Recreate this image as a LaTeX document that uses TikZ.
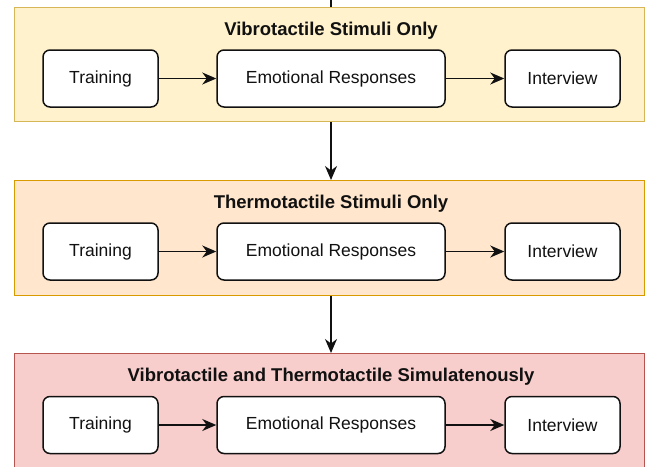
\documentclass[tikz,border=0pt]{standalone}
\usepackage{fontspec}
\setmainfont{Liberation Sans}
\usetikzlibrary{arrows.meta}
\definecolor{yfill}{HTML}{FFF2CC}
\definecolor{ydraw}{HTML}{D6B656}
\definecolor{ofill}{HTML}{FFE6CC}
\definecolor{odraw}{HTML}{D79B00}
\definecolor{rfill}{HTML}{F8CECC}
\definecolor{rdraw}{HTML}{B85450}
\definecolor{ink}{HTML}{111111}
\tikzset{
  panel/.style={draw, line width=1pt, anchor=north west, minimum width=630pt, inner sep=0pt},
  stepbox/.style={draw=ink, line width=1.5pt, fill=white, rounded corners=7pt, minimum height=57pt, inner sep=0pt, text=ink, font=\fontsize{17.5}{20}\selectfont},
  ptitle/.style={font=\bfseries\fontsize{18.5}{21}\selectfont, inner sep=0pt, text=ink},
  arr/.style={-{Stealth[length=14pt,width=12pt,inset=4.5pt]}, line width=1.5pt, ink},
}
\begin{document}
\begin{tikzpicture}[x=1pt,y=-1pt]
\useasboundingbox (0,0) rectangle (648,466);
\clip (0,0) rectangle (648,466);
% panels
\node[panel, fill=yfill, draw=ydraw, minimum height=114pt] (p1) at (14,7) {};
\node[panel, fill=ofill, draw=odraw, minimum height=115pt] (p2) at (14,180) {};
\node[panel, fill=rfill, draw=rdraw, minimum height=130pt] (p3) at (14,353) {};
% titles
\node[ptitle] (h1) at (331,31) {Vibrotactile Stimuli Only};
\node[ptitle] (h2) at (331,204) {Thermotactile Stimuli Only};
\node[ptitle] (h3) at (331,377) {Vibrotactile and Thermotactile Simulatenously};
% row 1
\node[stepbox, minimum width=115pt] (t1) at (100.5,78.5) {Training};
\node[stepbox, minimum width=228pt] (e1) at (331,78.5) {Emotional Responses};
\node[stepbox, minimum width=115pt] (i1) at (562.5,78.5) {Interview};
% row 2
\node[stepbox, minimum width=115pt] (t2) at (100.5,251.5) {Training};
\node[stepbox, minimum width=228pt] (e2) at (331,251.5) {Emotional Responses};
\node[stepbox, minimum width=115pt] (i2) at (562.5,251.5) {Interview};
% row 3
\node[stepbox, minimum width=115pt] (t3) at (100.5,425) {Training};
\node[stepbox, minimum width=228pt] (e3) at (331,425) {Emotional Responses};
\node[stepbox, minimum width=115pt] (i3) at (562.5,425) {Interview};
% connectors
\draw[arr] (t1) -- (e1);
\draw[arr] (e1) -- (i1);
\draw[arr] (t2) -- (e2);
\draw[arr] (e2) -- (i2);
\draw[arr] (t3) -- (e3);
\draw[arr] (e3) -- (i3);
\coordinate (top) at (331,0);
\draw[line width=1.5pt, ink] (top) -- (e1 |- p1.north);
\draw[arr] (e1 |- p1.south) -- (e1 |- p2.north);
\draw[arr] (e2 |- p2.south) -- (e2 |- p3.north);
\end{tikzpicture}
\end{document}
